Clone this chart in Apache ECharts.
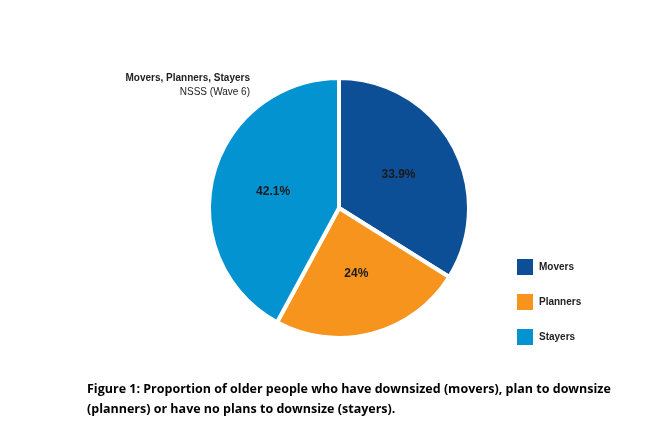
<!DOCTYPE html>
<html><head><meta charset="utf-8">
<script src="https://cdn.jsdelivr.net/npm/echarts@6/dist/echarts.min.js"></script>
<style>html,body{margin:0;padding:0;background:#fff}#c{width:672px;height:448px}</style>
</head><body><div id="c"></div>
<script>
const categories = ["Movers", "Planners", "Stayers"];
const values = [33.9, 24, 42.1];
const labels = ["33.9%", "24%", "42.1%"];
const colors = ["#0d4f96", "#f7941d", "#0393d0"];
const chart = echarts.init(document.getElementById('c'));
chart.setOption({
  animation: false,
  title: [
    {text: "Movers, Planners, Stayers", right: 417, top: 68,
     textStyle: {fontFamily: "Liberation Sans", fontSize: 10, fontWeight: "bold", color: "#222"}},
    {text: "NSSS (Wave 6)", right: 417, top: 82,
     textStyle: {fontFamily: "Liberation Sans", fontSize: 10, fontWeight: "normal", color: "#222"}},
    {text: "Figure 1: Proportion of older people who have downsized (movers), plan to downsize\n(planners) or have no plans to downsize (stayers).",
     left: 82, top: 374,
     textStyle: {fontFamily: "Open Sans", fontSize: 12.5, fontWeight: "bold", color: "#000", lineHeight: 20}}
  ],
  legend: {
    orient: "vertical", left: 510, top: 252, itemWidth: 18, itemHeight: 18, itemGap: 15,
    icon: "rect", data: categories,
    textStyle: {fontFamily: "Liberation Sans", fontSize: 10, fontWeight: "bold", color: "#222"}
  },
  series: [{
    type: "pie", center: [339, 208], radius: [0, 130], startAngle: 90, clockwise: true,
    itemStyle: {borderColor: "#fff", borderWidth: 4},
    label: {position: "inside", fontFamily: "Liberation Sans", fontSize: 12, fontWeight: "bold", color: "#1a1a1a",
      formatter: p => labels[p.dataIndex]},
    labelLine: {show: false},
    emphasis: {disabled: true},
    data: categories.map((n, i) => ({name: n, value: values[i], itemStyle: {color: colors[i]}}))
  }]
});
</script></body></html>
